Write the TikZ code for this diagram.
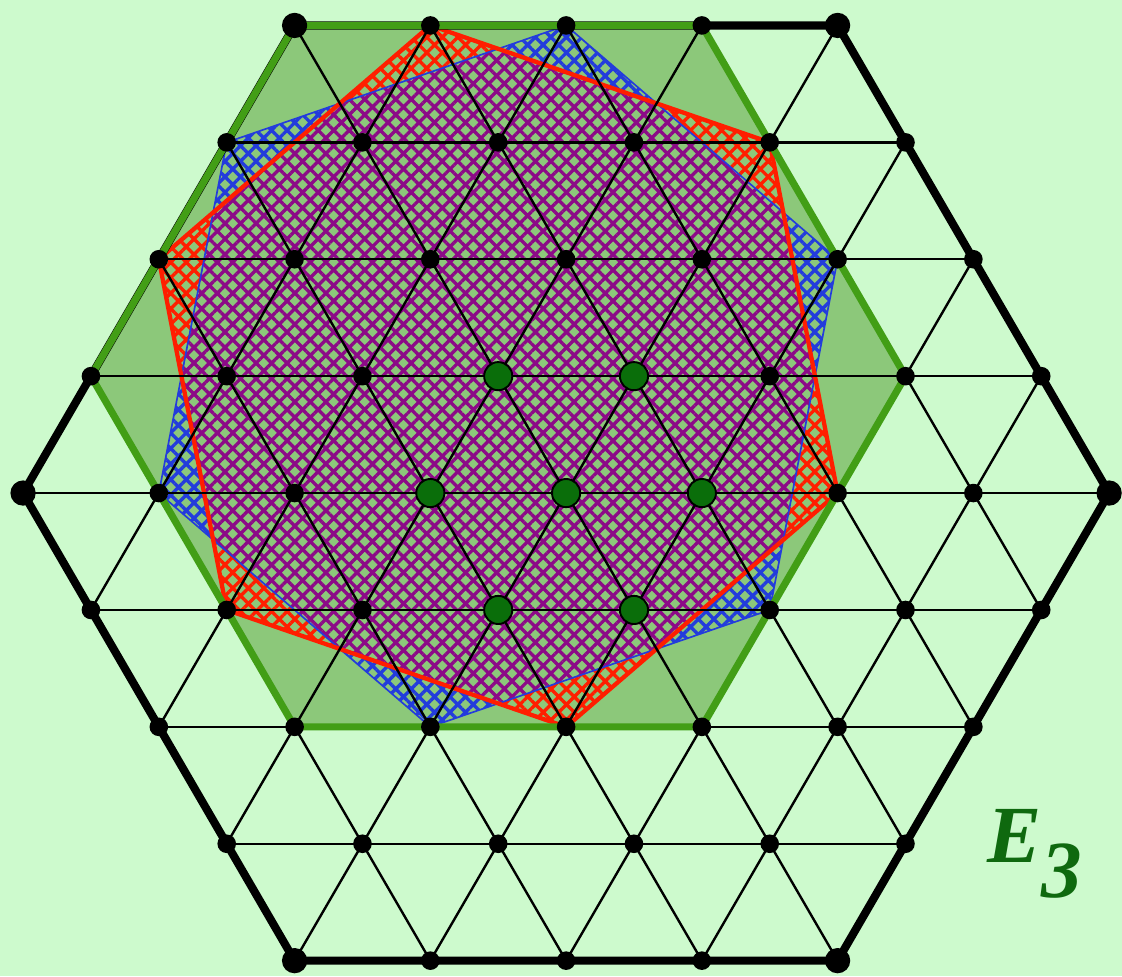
\documentclass[tikz,border=0pt]{standalone}
\usepackage{fontspec}
\newfontfamily\labelfont{Liberation Serif}
\usetikzlibrary{patterns.meta}
\definecolor{bgreen}{RGB}{205,250,205}
\definecolor{hexfill}{RGB}{140,200,122}
\definecolor{hexline}{RGB}{66,158,22}
\definecolor{dotgreen}{RGB}{10,110,10}
\definecolor{hatchred}{RGB}{255,30,0}
\definecolor{hatchblue}{RGB}{35,60,220}
\definecolor{hatchpurple}{RGB}{140,10,135}
\definecolor{labelgreen}{RGB}{15,105,15}

\tikzset{
  edge/.style={line width=0.5pt},
  rim/.style={line width=1.7pt, line join=round},
  dot/.style={circle, fill=black, inner sep=0pt, minimum size=3.9pt},
  bigdot/.style={dot, minimum size=5.3pt},
  gdot/.style={circle, fill=dotgreen, draw=black, line width=0.4pt, inner sep=0pt, minimum size=5.9pt},
  hatch/.style={pattern={Hatch[angle=45,distance=2.3pt,line width=0.7pt]}, pattern color=#1},
}

\begin{document}
\begin{tikzpicture}
    \useasboundingbox[fill=bgreen] (-4.17,-3.558) rectangle (4.095,3.632);
    \begin{scope}[x={(1cm,0cm)}, y={(0.5cm,0.8611cm)}]
        \foreach \i in {0,...,8}
            \foreach \j in {0,...,8}
                \coordinate (v\i\j) at (\i-4,\j-4);
    \end{scope}

    \fill[hexfill] (v65) -- (v38) -- (v08) -- (v05) -- (v32) -- (v62) -- cycle;
    \fill[hatch=hatchblue] (v28) -- (v56) -- (v63) -- (v42) -- (v14) -- (v07) -- cycle;
    \fill[hatch=hatchred] (v18) -- (v47) -- (v64) -- (v52) -- (v23) -- (v06) -- cycle;
    \begin{scope}
        \clip (v18) -- (v47) -- (v64) -- (v52) -- (v23) -- (v06) -- cycle;
        \fill[hexfill] (v28) -- (v56) -- (v63) -- (v42) -- (v14) -- (v07) -- cycle;
        \fill[hatch=hatchpurple] (v28) -- (v56) -- (v63) -- (v42) -- (v14) -- (v07) -- cycle;
    \end{scope}
    \draw[hatchblue, line width=0.35pt] (v28) -- (v56) -- (v63) -- (v42) -- (v14) -- (v07) -- cycle;
    \draw[hatchred, line width=0.9pt, line join=round] (v18) -- (v47) -- (v64) -- (v52) -- (v23) -- (v06) -- cycle;

    \foreach \k in {0,...,8} {
        \pgfmathtruncatemacro\lo{max(0,4-\k)}
        \pgfmathtruncatemacro\hi{min(8,12-\k)}
        \draw[edge] (v\lo\k) -- (v\hi\k);
        \draw[edge] (v\k\lo) -- (v\k\hi);
    }
    \foreach \m in {4,...,12} {
        \pgfmathtruncatemacro\ia{min(8,\m)}
        \pgfmathtruncatemacro\ib{max(0,\m-8)}
        \pgfmathtruncatemacro\ja{\m-\ia}
        \pgfmathtruncatemacro\jb{\m-\ib}
        \draw[edge] (v\ia\ja) -- (v\ib\jb);
    }

    \draw[rim] (v40) -- (v80) -- (v84) -- (v48) -- (v08) -- (v04) -- cycle;
    \draw[rim, hexline, line width=1.5pt] (v65) -- (v38) -- (v08) -- (v05) -- (v32) -- (v62) -- cycle;

    \foreach \i in {0,...,8}
        \foreach \j in {0,...,8} {
            \pgfmathtruncatemacro\s{\i+\j}
            \ifnum\s>3 \ifnum\s<13 \node[dot] (d\i\j) at (v\i\j) {}; \fi\fi
        }
    \foreach \c in {40,80,84,48,08,04}
        \node[bigdot] (c\c) at (v\c) {};
    \foreach \c in {44,54,34,45,35,43,53}
        \node[gdot] (g\c) at (v\c) {};

    \node[labelgreen, anchor=base west, font=\labelfont\fontsize{17}{20}\selectfont\bfseries\itshape] (elabel) at (2.98,-2.72) {E\raisebox{-7.3pt}{3}};
\end{tikzpicture}
\end{document}
